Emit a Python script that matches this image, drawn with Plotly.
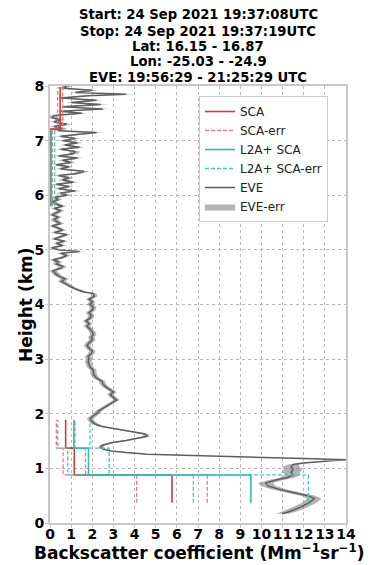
import plotly.graph_objects as go

# ---------------- data ----------------
title_lines = [
    "Start: 24 Sep 2021 19:37:08UTC",
    "Stop: 24 Sep 2021 19:37:19UTC",
    "Lat: 16.15 - 16.87",
    "Lon: -25.03 - -24.9",
    "EVE: 19:56:29 - 21:25:29 UTC",
]
x_title = "Backscatter coefficient (Mm<sup>−1</sup>sr<sup>−1</sup>)"
y_title = "Height (km)"

# SCA bins (km) and backscatter (Mm-1 sr-1)
sca_bottom = [0.37, 0.88, 1.37, 5.80, 7.21]
sca_top = [0.88, 1.37, 1.89, 7.21, 7.98]
sca_value = [5.77, 1.15, 0.74, 0.03, 0.48]
sca_err = [1.67, 0.53, 0.44, 0.08, 0.12]

# L2A+ SCA bins
l2a_bottom = [0.37, 0.88, 1.37, 5.80]
l2a_top = [0.88, 1.37, 1.89, 7.21]
l2a_value = [9.50, 1.82, 1.13, 0.05]
l2a_err = [2.72, 0.98, 0.76, 0.17]

# EVE profile
eve_height = [
    0.17, 0.22, 0.30, 0.38, 0.45, 0.50, 0.55, 0.62, 0.68, 0.73,
    0.78, 0.83, 0.88, 0.93, 0.98, 1.03, 1.07, 1.10, 1.13, 1.16,
    1.18, 1.20, 1.22, 1.24, 1.26, 1.29, 1.32, 1.35, 1.38, 1.42,
    1.47, 1.51, 1.55, 1.59, 1.63, 1.67, 1.72, 1.77, 1.82, 1.87,
    1.91, 1.95, 2.00, 2.05, 2.10, 2.15, 2.20, 2.25, 2.30, 2.35,
    2.40, 2.45, 2.50, 2.55, 2.60, 2.65, 2.70, 2.75, 2.80, 2.85,
    2.90, 2.95, 3.00, 3.05, 3.10, 3.15, 3.20, 3.25, 3.30, 3.35,
    3.40, 3.45, 3.50, 3.55, 3.60, 3.65, 3.70, 3.75, 3.80, 3.85,
    3.90, 3.95, 4.00, 4.05, 4.10, 4.15, 4.20, 4.23, 4.27, 4.32,
    4.37, 4.42, 4.47, 4.52, 4.57, 4.62, 4.66, 4.70, 4.74, 4.78,
    4.82, 4.86, 4.90, 4.94, 4.97, 5.00, 5.04, 5.08, 5.12, 5.16,
    5.20, 5.24, 5.28, 5.32, 5.36, 5.40, 5.44, 5.48, 5.52, 5.56,
    5.60, 5.64, 5.68, 5.72, 5.76, 5.80, 5.84, 5.88, 5.92, 5.96,
    6.00, 6.04, 6.08, 6.12, 6.16, 6.20, 6.24, 6.28, 6.32, 6.36,
    6.40, 6.44, 6.48, 6.52, 6.56, 6.60, 6.64, 6.68, 6.72, 6.76,
    6.80, 6.84, 6.88, 6.92, 6.96, 7.00, 7.04, 7.08, 7.12, 7.15,
    7.18, 7.22, 7.26, 7.30, 7.34, 7.38, 7.42, 7.46, 7.50, 7.54,
    7.58, 7.62, 7.66, 7.70, 7.74, 7.78, 7.82, 7.85, 7.88, 7.92,
    7.96, 8.00,
]
eve_value = [
    11.0, 11.4, 11.9, 12.3, 12.5, 12.2, 11.6, 10.8, 10.3, 10.2,
    10.6, 11.2, 11.5, 11.4, 11.5, 11.4, 11.5, 12.0, 13.0, 14.0,
    12.0, 10.0, 8.0, 6.0, 4.6, 3.6, 2.9, 2.55, 2.4, 2.45,
    2.9, 3.6, 4.2, 4.6, 4.5, 3.9, 3.0, 2.4, 2.1, 1.95,
    1.9, 2.0, 2.2, 2.3, 2.5, 2.7, 2.9, 3.15, 3.0, 2.85,
    3.0, 2.8, 2.6, 2.5, 2.45, 2.2, 2.1, 2.05, 2.05, 1.9,
    1.85, 1.8, 1.85, 1.8, 1.95, 2.0, 1.85, 1.75, 1.85, 2.0,
    1.95, 2.05, 2.0, 1.9, 1.75, 1.85, 1.7, 1.9, 1.95, 1.85,
    2.0, 2.05, 1.9, 2.0, 1.85, 2.1, 2.05, 1.6, 1.3, 1.0,
    0.8, 0.55, 0.7, 0.4, 0.25, 0.15, 0.5, 0.6, 0.3, 0.4,
    0.15, 0.6, 0.8, 0.5, 1.4, 0.4, 0.1, 0.6, 0.3, 0.7,
    0.2, 0.5, 0.8, 0.2, 0.6, 0.4, 0.1, 0.5, 0.3, 0.2,
    0.4, 0.1, 0.3, 0.5, 0.2, 0.6, 0.3, 0.1, 0.4, 0.2,
    0.8, 0.5, 1.2, 0.4, 0.9, 0.3, 1.1, 0.6, 0.9, 0.4,
    1.3, 1.6, 0.5, 0.9, 0.3, 1.0, 0.6, 1.3, 0.4, 1.1,
    1.2, 0.5, 1.4, 0.7, 1.3, 0.6, 1.2, 0.5, 1.5, 2.2,
    0.4, 0.6, 0.2, 0.8, 0.2, 0.5, 0.1, 0.2, 1.5, 0.5,
    2.5, 0.6, 2.4, 1.0, 2.2, 0.5, 1.8, 3.6, 1.2, 2.0,
    0.6, 0.8,
]
eve_err = [
    0.30, 0.35, 0.35, 0.35, 0.35, 0.35, 0.35, 0.35, 0.35, 0.35,
    0.35, 0.35, 0.35, 0.40, 0.45, 0.40, 0.25, 0.15, 0.12, 0.12,
    0.12, 0.12, 0.12, 0.12, 0.12, 0.12, 0.12, 0.12, 0.12, 0.12,
    0.15, 0.15, 0.15, 0.15, 0.15, 0.15, 0.15, 0.15, 0.15, 0.15,
    0.15, 0.15, 0.15, 0.15, 0.15, 0.15, 0.15, 0.15, 0.15, 0.15,
    0.15, 0.15, 0.15, 0.15, 0.15, 0.15, 0.15, 0.15, 0.15, 0.15,
    0.15, 0.15, 0.15, 0.15, 0.15, 0.15, 0.15, 0.15, 0.15, 0.15,
    0.15, 0.15, 0.15, 0.15, 0.15, 0.15, 0.15, 0.15, 0.15, 0.15,
    0.15, 0.15, 0.15, 0.15, 0.15, 0.15, 0.15, 0.15, 0.15, 0.15,
    0.18, 0.18, 0.18, 0.18, 0.18, 0.18, 0.18, 0.18, 0.18, 0.18,
    0.18, 0.18, 0.18, 0.18, 0.25, 0.18, 0.18, 0.18, 0.18, 0.18,
    0.18, 0.18, 0.18, 0.18, 0.18, 0.18, 0.18, 0.18, 0.18, 0.18,
    0.18, 0.18, 0.18, 0.18, 0.18, 0.18, 0.18, 0.18, 0.18, 0.18,
    0.22, 0.22, 0.25, 0.22, 0.22, 0.22, 0.25, 0.22, 0.22, 0.22,
    0.25, 0.28, 0.22, 0.22, 0.22, 0.22, 0.22, 0.25, 0.22, 0.22,
    0.22, 0.22, 0.25, 0.22, 0.25, 0.22, 0.22, 0.22, 0.28, 0.35,
    0.22, 0.22, 0.22, 0.22, 0.22, 0.22, 0.22, 0.22, 0.28, 0.22,
    0.35, 0.22, 0.35, 0.25, 0.30, 0.22, 0.30, 0.45, 0.25, 0.30,
    0.22, 0.22,
]

# ---------------- helpers ----------------
def step_path(bottoms, tops, values):
    xs, ys = [], []
    prev_top = None
    for b, t, v in zip(bottoms, tops, values):
        if prev_top is not None and abs(b - prev_top) > 1e-9:
            xs.append(None)
            ys.append(None)
        xs += [v, v]
        ys += [b, t]
        prev_top = t
    return xs, ys


def err_paths(bottoms, tops, values, errs):
    lo = [v - e for v, e in zip(values, errs)]
    hi = [v + e for v, e in zip(values, errs)]
    x1, y1 = step_path(bottoms, tops, lo)
    x2, y2 = step_path(bottoms, tops, hi)
    return x1 + [None] + x2, y1 + [None] + y2


FONT = "DejaVu Sans"
RED = "#cc3d3d"
RED_L = "#e58080"
TEAL = "#2cbfb1"
TEAL_L = "#45c9bf"
GRAY = "#5e5e5e"

fig = go.Figure()

# EVE error band
band_x = [v - e for v, e in zip(eve_value, eve_err)] + \
         [v + e for v, e in zip(eve_value[::-1], eve_err[::-1])]
band_y = eve_height + eve_height[::-1]
fig.add_trace(go.Scatter(
    x=band_x, y=band_y, fill="toself", mode="lines",
    line=dict(width=0, color="rgba(0,0,0,0)"),
    fillcolor="rgba(128,128,128,0.6)", name="EVE-err", legendrank=6,
    hoverinfo="skip"))
fig.add_trace(go.Scatter(
    x=eve_value, y=eve_height, mode="lines",
    line=dict(color=GRAY, width=1.5), name="EVE", legendrank=5))

# SCA
xs, ys = step_path(sca_bottom, sca_top, sca_value)
ex, ey = err_paths(sca_bottom, sca_top, sca_value, sca_err)
fig.add_trace(go.Scatter(x=ex, y=ey, mode="lines", connectgaps=False,
                         line=dict(color=RED_L, width=1.3, dash="4px,2px"),
                         name="SCA-err", legendrank=2))
fig.add_trace(go.Scatter(x=xs, y=ys, mode="lines", connectgaps=False,
                         line=dict(color=RED, width=1.6),
                         name="SCA", legendrank=1))

# L2A+
xs, ys = step_path(l2a_bottom, l2a_top, l2a_value)
ex, ey = err_paths(l2a_bottom, l2a_top, l2a_value, l2a_err)
fig.add_trace(go.Scatter(x=ex, y=ey, mode="lines", connectgaps=False,
                         line=dict(color=TEAL_L, width=1.3, dash="4px,2px"),
                         name="L2A+ SCA-err", legendrank=4))
fig.add_trace(go.Scatter(x=xs, y=ys, mode="lines", connectgaps=False,
                         line=dict(color=TEAL, width=1.6),
                         name="L2A+ SCA", legendrank=3))

# page has an 8px body margin: size figure so that it fills the window
OFF = 8
W, H = 385 - OFF, 565 - OFF
M_L, M_R, M_T, M_B = 50 - OFF, 39, 86 - OFF, 42
PW, PH = W - M_L - M_R, H - M_T - M_B


def py2paper(py_page):
    return (H - M_B - (py_page - OFF)) / PH


def px2paper(px_page):
    return ((px_page - OFF) - M_L) / PW


title_px = [15, 31, 46.5, 62, 77.5]
for txt, py in zip(title_lines, title_px):
    fig.add_annotation(text="<b>%s</b>" % txt, xref="paper", yref="paper",
                       x=0.5, y=py2paper(py),
                       xanchor="center", yanchor="middle", showarrow=False,
                       font=dict(family=FONT, size=13.2, color="black"))

fig.add_annotation(text="<b>%s</b>" % x_title, xref="paper", yref="paper",
                   x=px2paper(199), y=py2paper(552), xanchor="center",
                   yanchor="middle", showarrow=False,
                   font=dict(family=FONT, size=17, color="black"))
fig.add_annotation(text="<b>%s</b>" % y_title, xref="paper", yref="paper",
                   x=px2paper(26), y=py2paper(305), xanchor="center",
                   yanchor="middle", showarrow=False, textangle=-90,
                   font=dict(family=FONT, size=17, color="black"))

axis_common = dict(
    showline=True, linecolor="#c8c8c8", linewidth=2, mirror=True,
    showgrid=True, gridcolor="#b8b8b8", griddash="dot", gridwidth=1,
    zeroline=False, ticks="outside", ticklen=3, tickcolor="#c8c8c8",
    tickangle=0, automargin=False,
    tickfont=dict(family=FONT, size=14, color="black", weight="bold"),
)

fig.update_layout(
    width=W, height=H,
    margin=dict(l=M_L, r=M_R, t=M_T, b=M_B, autoexpand=False),
    paper_bgcolor="white", plot_bgcolor="white",
    font=dict(family=FONT, color="black"),
    showlegend=True,
    legend=dict(x=px2paper(199), y=py2paper(96), xanchor="left", yanchor="top",
                bgcolor="white", bordercolor="#cccccc", borderwidth=1,
                font=dict(family=FONT, size=12, color="#222"),
                tracegroupgap=0, itemwidth=30),
    xaxis=dict(range=[0, 14], dtick=1, tick0=0, ticklabelstandoff=-6,
               **axis_common),
    yaxis=dict(range=[0, 8], dtick=1, tick0=0, ticklabelstandoff=-2,
               **axis_common),
)

fig.write_html("out.html")
